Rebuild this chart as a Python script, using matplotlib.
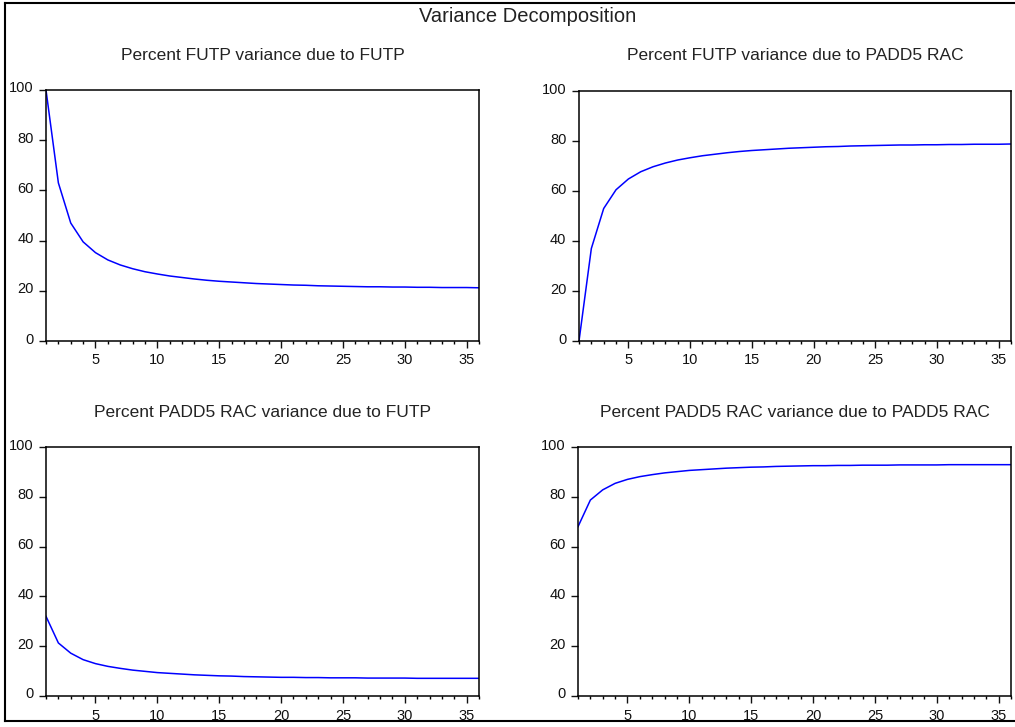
import matplotlib
matplotlib.use("Agg")
import matplotlib.pyplot as plt
import matplotlib.transforms as mtransforms
from matplotlib.lines import Line2D
from matplotlib.ticker import MultipleLocator

plt.rcParams["font.family"] = ["Liberation Sans", "DejaVu Sans"]

# forecast horizon (periods)
periods = list(range(1, 37))

# percent of FUTP variance due to FUTP
futp_futp = [100.0, 63.0, 47.0, 39.5, 35.2, 32.3, 30.3, 28.8, 27.6, 26.7,
             25.9, 25.3, 24.7, 24.2, 23.8, 23.5, 23.2, 22.9, 22.7, 22.5,
             22.3, 22.2, 22.0, 21.9, 21.8, 21.7, 21.6, 21.6, 21.5, 21.5,
             21.4, 21.4, 21.3, 21.3, 21.3, 21.2]

# percent of FUTP variance due to PADD5 RAC
futp_rac = [0.0, 37.0, 53.0, 60.5, 64.8, 67.7, 69.7, 71.2, 72.4, 73.3,
            74.1, 74.7, 75.3, 75.8, 76.2, 76.5, 76.8, 77.1, 77.3, 77.5,
            77.7, 77.8, 78.0, 78.1, 78.2, 78.3, 78.4, 78.4, 78.5, 78.5,
            78.6, 78.6, 78.7, 78.7, 78.7, 78.8]

# percent of PADD5 RAC variance due to FUTP
rac_futp = [32.0, 21.3, 17.2, 14.6, 13.0, 11.9, 11.1, 10.4, 9.9, 9.4,
            9.1, 8.8, 8.5, 8.3, 8.1, 8.0, 7.8, 7.7, 7.6, 7.5,
            7.5, 7.4, 7.4, 7.3, 7.3, 7.3, 7.2, 7.2, 7.2, 7.2,
            7.1, 7.1, 7.1, 7.1, 7.1, 7.1]

# percent of PADD5 RAC variance due to PADD5 RAC
rac_rac = [68.0, 78.7, 82.8, 85.4, 87.0, 88.1, 88.9, 89.6, 90.1, 90.6,
           90.9, 91.2, 91.5, 91.7, 91.9, 92.0, 92.2, 92.3, 92.4, 92.5,
           92.5, 92.6, 92.6, 92.7, 92.7, 92.7, 92.8, 92.8, 92.8, 92.8,
           92.9, 92.9, 92.9, 92.9, 92.9, 92.9]

titles = ["Percent FUTP variance due to FUTP",
          "Percent FUTP variance due to PADD5 RAC",
          "Percent PADD5 RAC variance due to FUTP",
          "Percent PADD5 RAC variance due to PADD5 RAC"]
series = [futp_futp, futp_rac, rac_futp, rac_rac]

W, H = 1015, 727
fig = plt.figure(figsize=(W / 100, H / 100), dpi=100)

# axes boxes in pixels: left, top, right, bottom; plus title centre y
boxes = [(46, 90, 479, 341, 55), (579, 91, 1011, 341, 55),
         (46, 447, 479, 696, 412), (578, 447, 1011, 696, 412)]

# y tick labels sit a little above their ticks, as in EViews
lift = mtransforms.ScaledTranslation(0, 3 / 100, fig.dpi_scale_trans)

for (l, t, r, b, ty), vals, title in zip(boxes, series, titles):
    ax = fig.add_axes([l / W, 1 - b / H, (r - l) / W, (b - t) / H])
    ax.plot(periods, vals, color="#0000ff", lw=1.1)
    ax.set_xlim(1, 36)
    ax.set_ylim(0, 100)
    ax.xaxis.set_major_locator(MultipleLocator(5))
    ax.xaxis.set_minor_locator(MultipleLocator(1))
    ax.yaxis.set_major_locator(MultipleLocator(20))
    ax.tick_params(axis="both", which="major", direction="out", length=5,
                   width=1, labelsize=10.5, colors="#111111", pad=4)
    ax.tick_params(axis="x", which="minor", direction="out", length=2.5, width=1)
    for lab in ax.get_yticklabels():
        lab.set_transform(lab.get_transform() + lift)
    for sp in ax.spines.values():
        sp.set_linewidth(1.1)
    fig.text((l + r) / 2 / W, 1 - ty / H, title, ha="center", va="center",
             fontsize=12.5, color="#222222")

fig.text(528 / W, 1 - 16 / H, "Variance Decomposition", ha="center",
         va="center", fontsize=14.5, color="#222222")

# outer frame (right side falls outside the image)
fig.add_artist(Line2D([5 / W, 5 / W], [1 - 3 / H, 1 - 721 / H], color="black", lw=1.5))
fig.add_artist(Line2D([5 / W, 1.0], [1 - 3 / H, 1 - 3 / H], color="black", lw=1.5))
fig.add_artist(Line2D([5 / W, 1.0], [1 - 721 / H, 1 - 721 / H], color="black", lw=1.5))

fig.savefig("out.png", dpi=100)
